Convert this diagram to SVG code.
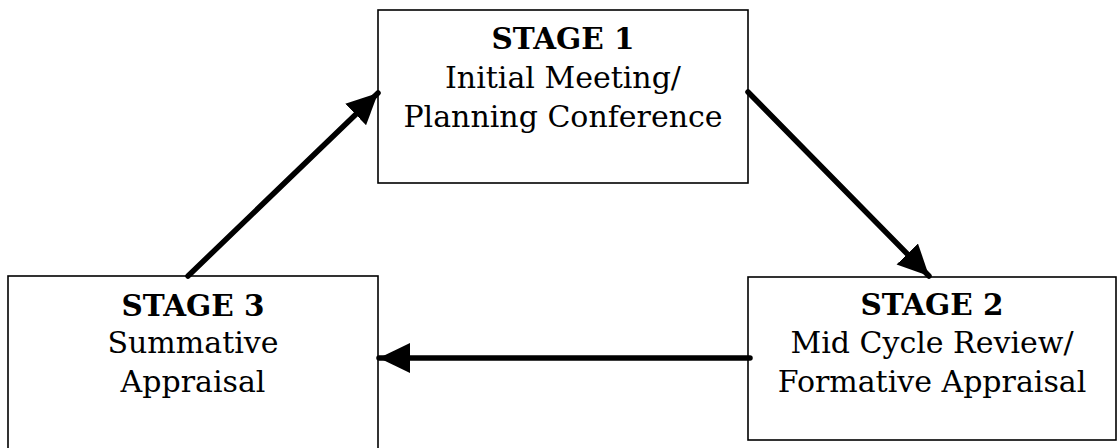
<svg xmlns="http://www.w3.org/2000/svg" width="1118" height="448" viewBox="0 0 1118 448">
<style>
.box{fill:#fff;stroke:#000;stroke-width:1.6}
.t{font-family:"DejaVu Serif","Liberation Serif",serif;font-size:30px;fill:#000;text-anchor:middle}
.b{font-weight:bold;font-size:29.5px}
.c{stroke:#000;stroke-width:5.5;stroke-linecap:round;fill:none}
</style>
<defs>
<marker id="ah" markerUnits="userSpaceOnUse" markerWidth="32" markerHeight="32" refX="31" refY="15" orient="auto" viewBox="0 0 32 30">
<path d="M0,0 L31,15 L0,30 Z" fill="#000"/>
</marker>
</defs>
<g id="stage1">
<rect class="box" x="378" y="10" width="370" height="173"/>
<text class="t b" x="563" y="49">STAGE 1</text>
<text class="t" x="563" y="88">Initial Meeting/</text>
<text class="t" x="563" y="127">Planning Conference</text>
</g>
<g id="stage3">
<rect class="box" x="8" y="276" width="370" height="180"/>
<text class="t b" x="193" y="316">STAGE 3</text>
<text class="t" x="193" y="353">Summative</text>
<text class="t" x="193" y="392">Appraisal</text>
</g>
<g id="stage2">
<rect class="box" x="748" y="277" width="368" height="163"/>
<text class="t b" x="932" y="315">STAGE 2</text>
<text class="t" x="932" y="353">Mid Cycle Review/</text>
<text class="t" x="932" y="392">Formative Appraisal</text>
</g>
<g id="connectors">
<line class="c" x1="188" y1="276" x2="378" y2="93" marker-end="url(#ah)"/>
<line class="c" x1="748" y1="92" x2="929" y2="276" marker-end="url(#ah)"/>
<line class="c" x1="750" y1="358" x2="379" y2="358" marker-end="url(#ah)"/>
</g>
</svg>
